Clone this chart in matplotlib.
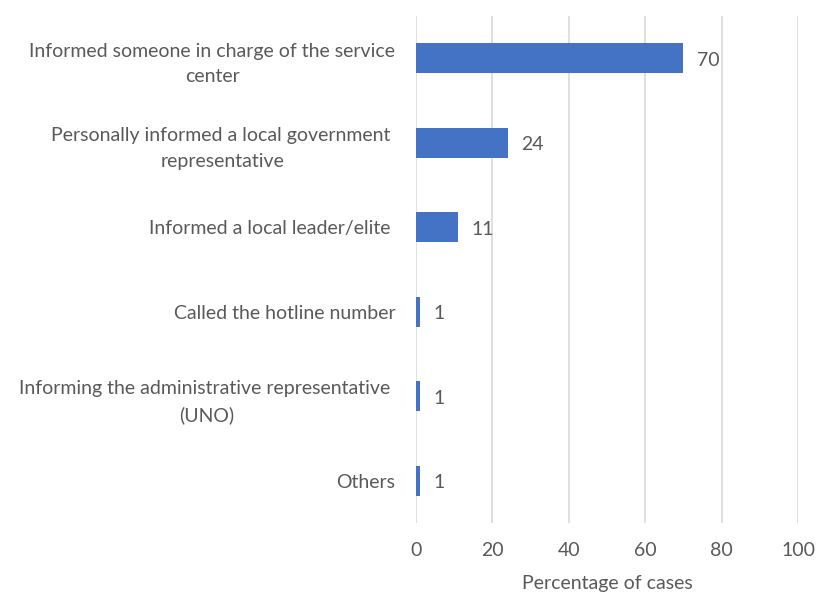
import matplotlib

matplotlib.use("Agg")
import matplotlib.pyplot as plt

plt.rcParams["font.family"] = ["Lato", "DejaVu Sans"]

# Данные (сверху вниз, как на графике)
categories = [
    "Informed someone in charge of the service\ncenter",
    "Personally informed a local government \nrepresentative",
    "Informed a local leader/elite ",
    "Called the hotline number",
    "Informing the administrative representative \n(UNO)",
    "Others",
]
values = [70, 24, 11, 1, 1, 1]
x_ticks = [0, 20, 40, 60, 80, 100]

text_color = "#595959"
bar_color = "#4472C4"
grid_color = "#D9D9D9"
fs = 14

fig = plt.figure(figsize=(8.17, 5.94), dpi=100)
ax = fig.add_axes([416 / 817, 1 - 523 / 594, (798 - 416) / 817, (523 - 16) / 594])

pos = list(range(len(categories)))[::-1]
ax.barh(pos, values, height=0.36, color=bar_color, zorder=3)
for p, v in zip(pos, values):
    ax.annotate(str(v), (v, p), xytext=(10, -1.5), textcoords="offset points",
                va="center", ha="left", fontsize=fs, color=text_color)

ax.set_xlim(0, 100)
ax.set_ylim(-0.5, len(categories) - 0.5)
ax.set_xticks(x_ticks)
ax.set_yticks(pos)
ax.set_yticklabels(categories, multialignment="center", linespacing=1.6)
ax.tick_params(axis="both", length=0, colors=text_color, labelsize=fs)
ax.tick_params(axis="x", pad=14)
ax.tick_params(axis="y", pad=15)
ax.grid(axis="x", color=grid_color, linewidth=1.2, zorder=0)
for s in ax.spines.values():
    s.set_visible(False)
ax.set_xlabel("Percentage of cases", fontsize=fs, color=text_color, labelpad=11.5)

fig.savefig("out.png", dpi=100)
